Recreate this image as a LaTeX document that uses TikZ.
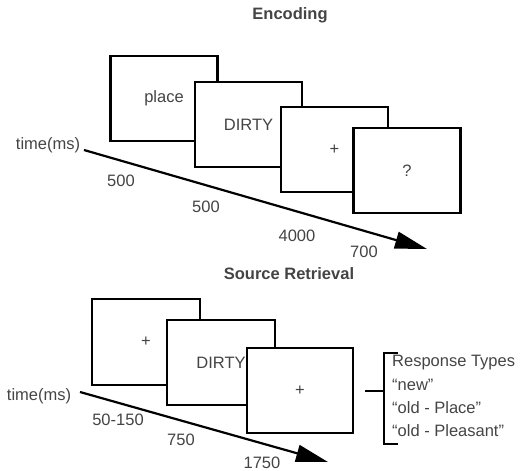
\documentclass[tikz,border=0pt]{standalone}
\usepackage{fontspec}
\setmainfont{Liberation Sans}
\usetikzlibrary{arrows.meta}
\definecolor{txt}{HTML}{444444}
\begin{document}
\begin{tikzpicture}[x=1pt,y=-1pt,
  every node/.style={text=txt,font=\fontsize{16.5}{20}\selectfont,inner sep=0pt},
  stim/.style={draw=black,line width=2.5pt,fill=white,rectangle,minimum width=107pt,minimum height=85pt},
  title/.style={font=\fontsize{16.5}{20}\selectfont\bfseries},
  timeline/.style={draw=black,line width=2.2pt,-{Triangle[length=32pt,width=17pt]}},
  brk/.style={draw=black,line width=2.5pt}]
\useasboundingbox (0,0) rectangle (520,471);
% Encoding
\node[title] (enc) at (290,15) {Encoding};
\node[stim] (e1) at (164,98.5) {place};
\node[stim] (e2) at (248.5,124.5) {DIRTY};
\node[stim] (e3) at (334.5,149.5) {+};
\node[stim] (e4) at (407,170.5) {?};
\node (et) at (48,145) {time(ms)};
\coordinate (es) at (84,150);
\coordinate (ee) at (427,249);
\draw[timeline] (es) -- (ee);
\node (ed1) at (121,181) {500};
\node (ed2) at (206,207) {500};
\node (ed3) at (297,236) {4000};
\node (ed4) at (364,252) {700};
% Source retrieval
\node[title] (ret) at (289,274) {Source Retrieval};
\node[stim,minimum width=108pt,minimum height=86pt] (r1) at (146,342) {+};
\node[stim,minimum width=108pt] (r2) at (221,362.5) {DIRTY};
\node[stim,minimum width=106pt] (r3) at (300,390.5) {+};
\node (rt) at (39,396) {time(ms)};
\coordinate (rs) at (80,392);
\coordinate (re) at (328,462);
\draw[timeline] (rs) -- (re);
\node (rd1) at (118,420) {50-150};
\node (rd2) at (181,440) {750};
\node (rd3) at (262,463) {1750};
% Response bracket
\coordinate (bt) at (398,353);
\coordinate (bb) at (398,444);
\coordinate (bs) at (365,391);
\coordinate (bm) at (384,391);
\draw[brk] (bt) -| (bm |- bb) -- (bb);
\draw[brk] (bs) -- (bm);
\node[anchor=west] (rr1) at (392,363) {Response Types};
\node[anchor=west] (rr2) at (392,385) {“new”};
\node[anchor=west] (rr3) at (392,408) {“old - Place”};
\node[anchor=west] (rr4) at (392,431) {“old - Pleasant”};
\end{tikzpicture}
\end{document}
